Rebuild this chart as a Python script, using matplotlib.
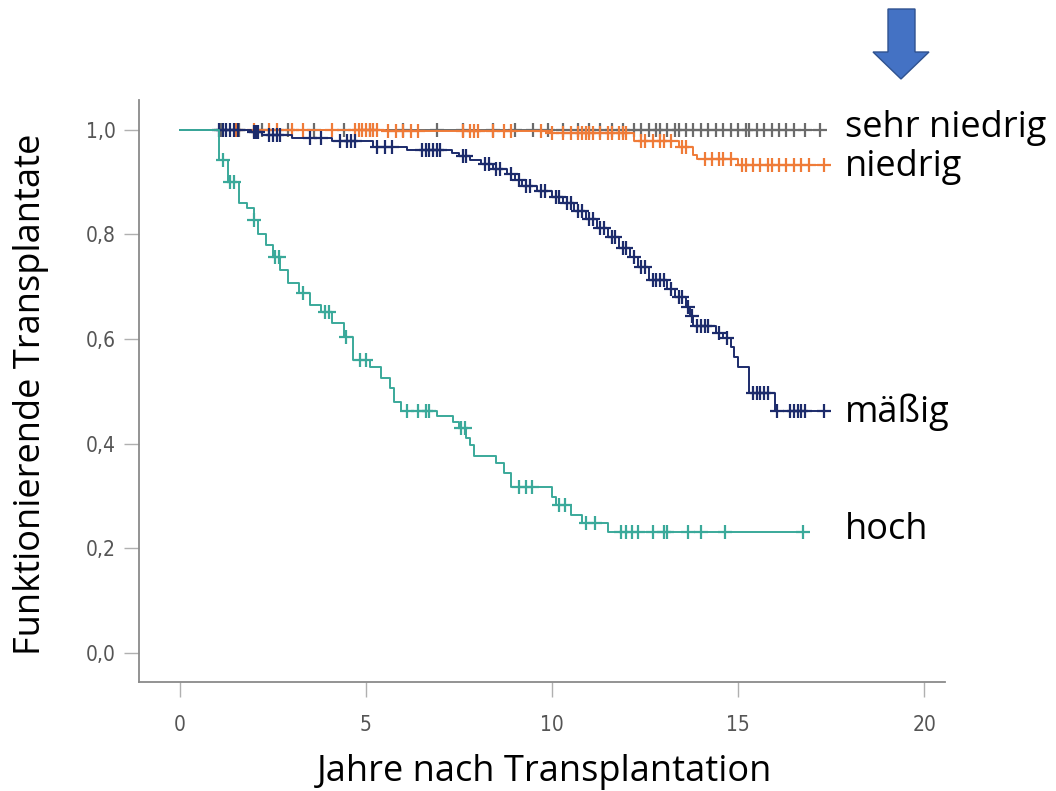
import numpy as np
import matplotlib.pyplot as plt
from matplotlib.patches import Polygon

# Kaplan-Meier: step times and survival after each event
t_sehr = [0.0]
s_sehr = [1.0]
c_sehr = [1.1, 1.6, 2.2, 2.9, 3.6, 4.4, 5.1, 6.0, 6.9, 7.6, 8.4, 9.0, 9.5, 9.9, 10.3,
          10.7, 11.0, 11.3, 11.6, 11.9, 12.2, 12.4, 12.6, 12.8, 12.9, 13.1, 13.3, 13.4,
          13.6, 13.8, 14.0, 14.2, 14.4, 14.6, 14.8, 15.0, 15.2, 15.3, 15.5, 15.7, 15.9,
          16.1, 16.3, 16.5, 16.8, 17.2]

t_nied = [0.0, 5.5, 10.0, 12.2, 13.4, 13.8, 13.9, 15.0]
s_nied = [1.0, 0.997, 0.994, 0.978, 0.968, 0.952, 0.945, 0.933]
c_nied = [1.5, 2.0, 2.4, 2.6, 3.0, 3.3, 4.1, 4.7, 4.8, 4.9, 5.0, 5.1, 5.2, 5.3, 5.6,
          5.8, 6.0, 6.2, 6.4, 7.6, 7.8, 7.9, 8.0, 8.4, 8.7, 8.9, 9.7, 10.0, 10.3,
          10.5, 10.7, 10.8, 10.9, 11.0, 11.1, 11.3, 11.5, 11.6, 11.8, 11.9, 12.0,
          12.4, 12.5, 12.7, 12.9, 13.0, 13.2, 13.5, 13.6, 14.1, 14.3, 14.5, 14.6,
          14.8, 15.1, 15.2, 15.4, 15.6, 15.8, 15.9, 16.1, 16.3, 16.5, 16.7, 16.9, 17.3]

t_maes = [0.0, 1.9, 2.2, 3.0, 4.1, 5.2, 6.1, 7.3, 7.5, 7.8, 8.1, 8.4, 8.8, 9.0, 9.2,
          9.6, 10.0, 10.3, 10.6, 10.9, 11.2, 11.5, 11.8, 12.1, 12.3, 12.6, 13.1, 13.3,
          13.6, 13.7, 13.8, 14.4, 14.6, 14.8, 14.9, 15.0, 15.3, 16.0]
s_maes = [1.0, 0.995, 0.990, 0.984, 0.978, 0.968, 0.961, 0.956, 0.950, 0.943, 0.934,
          0.925, 0.915, 0.905, 0.893, 0.884, 0.872, 0.860, 0.845, 0.830, 0.812, 0.795,
          0.775, 0.757, 0.737, 0.712, 0.695, 0.680, 0.662, 0.645, 0.625, 0.612, 0.602,
          0.585, 0.566, 0.547, 0.497, 0.462]
c_maes = [1.05, 1.15, 1.25, 1.35, 1.45, 1.55, 2.0, 2.05, 2.1, 2.4, 2.5, 2.6, 2.7,
          3.5, 3.8, 4.3, 4.5, 4.6, 4.7, 5.3, 5.5, 5.7, 6.5, 6.6, 6.7, 6.8, 6.9, 7.0,
          7.6, 7.7, 8.2, 8.3, 8.5, 8.6, 8.9, 9.1, 9.3, 9.4, 9.7, 9.8, 10.1, 10.2,
          10.4, 10.5, 10.7, 10.8, 11.0, 11.1, 11.3, 11.4, 11.6, 11.7, 11.9, 12.0,
          12.2, 12.4, 12.5, 12.7, 12.8, 12.9, 13.0, 13.2, 13.4, 13.5, 13.65, 13.75,
          13.9, 14.0, 14.1, 14.2, 14.5, 14.7, 15.4, 15.5, 15.6, 15.7, 15.8, 16.05,
          16.4, 16.5, 16.6, 16.7, 16.8, 17.3]

t_hoch = [0.0, 1.05, 1.3, 1.6, 1.8, 2.0, 2.1, 2.3, 2.5, 2.7, 2.9, 3.2, 3.5, 3.8, 4.1,
          4.4, 4.65, 5.1, 5.4, 5.65, 5.75, 5.95, 6.9, 7.35, 7.5, 7.7, 7.8, 7.9, 8.5,
          8.7, 8.9, 10.0, 10.1, 10.5, 10.8, 11.5]
s_hoch = [1.0, 0.943, 0.900, 0.860, 0.850, 0.828, 0.800, 0.780, 0.757, 0.732, 0.707,
          0.688, 0.665, 0.652, 0.631, 0.604, 0.560, 0.547, 0.526, 0.506, 0.480, 0.463,
          0.453, 0.442, 0.430, 0.411, 0.398, 0.377, 0.363, 0.344, 0.318, 0.299, 0.283,
          0.264, 0.249, 0.232]
c_hoch = [1.15, 1.35, 1.45, 2.0, 2.55, 2.65, 3.3, 3.9, 4.0, 4.45, 4.85, 5.0, 6.1,
          6.4, 6.6, 6.7, 7.55, 7.65, 9.1, 9.3, 9.45, 10.2, 10.35, 10.9, 11.15, 11.85,
          12.0, 12.15, 12.3, 12.7, 13.0, 13.1, 13.65, 14.0, 14.65, 16.75]

ends = [17.3, 17.3, 17.3, 16.85]
groups = ["sehr niedrig", "niedrig", "mäßig", "hoch"]
label_y = [1.004, 0.928, 0.46, 0.235]
colors = ["#6b6b6b", "#ef7b38", "#1c2b6b", "#3aa99a"]

fig = plt.figure(figsize=(10.56, 7.91), dpi=100)
ax = fig.add_axes([139 / 1056, 1 - 682 / 791, 806 / 1056, 582 / 791])

series = [(t_sehr, s_sehr, c_sehr), (t_nied, s_nied, c_nied),
          (t_maes, s_maes, c_maes), (t_hoch, s_hoch, c_hoch)]
for (t, s, c), end, col in zip(series, ends, colors):
    tt = np.append(t, end)
    ss = np.append(s, s[-1])
    ax.step(tt, ss, where="post", color=col, lw=1.4)
    c = np.array(c)
    idx = np.searchsorted(t, c, side="right") - 1
    ax.plot(c, np.array(s)[idx], ls="", marker="+", ms=10, mew=1.6, color=col)

for name, y in zip(groups, label_y):
    ax.text(17.88, y, name, fontsize=26, family="Open Sans", va="center",
            ha="left", clip_on=False)

ax.set_xlim(-1.1, 20.56)
ax.set_ylim(-0.0555, 1.057)
ax.set_xticks([0, 5, 10, 15, 20])
ax.set_yticks([0.0, 0.2, 0.4, 0.6, 0.8, 1.0])
ax.set_yticklabels(["0,0", "0,2", "0,4", "0,6", "0,8", "1,0"])
for s in ["top", "right"]:
    ax.spines[s].set_visible(False)
for s in ["left", "bottom"]:
    ax.spines[s].set_color("#8a8a8a")
    ax.spines[s].set_linewidth(1.3)
ax.tick_params(axis="both", length=11, width=1.0, color="#b0b0b0",
               labelcolor="#555555", labelsize=15)
ax.tick_params(axis="x", pad=13)
ax.tick_params(axis="y", pad=6)
for lab in ax.get_xticklabels() + ax.get_yticklabels():
    lab.set_family("DejaVu Sans")
    lab.set_fontstretch("condensed")

fig.text(31 / 1056, 1 - 394 / 791, "Funktionierende Transplantate", rotation=90,
         fontsize=26, family="Open Sans", ha="center", va="center")
fig.text(545 / 1056, 1 - 772 / 791, "Jahre nach Transplantation",
         fontsize=26, family="Open Sans", ha="center", va="center")

# blue arrow pointing down at the top right
arrow_px = [(888, 9), (915, 9), (915, 52), (929, 52), (901, 79), (873, 52), (888, 52)]
arrow = Polygon([(x / 1056, 1 - y / 791) for x, y in arrow_px], closed=True,
                transform=fig.transFigure, facecolor="#4472c4", edgecolor="#2f528f", lw=1)
fig.patches.append(arrow)

plt.savefig("out.png", dpi=100)
